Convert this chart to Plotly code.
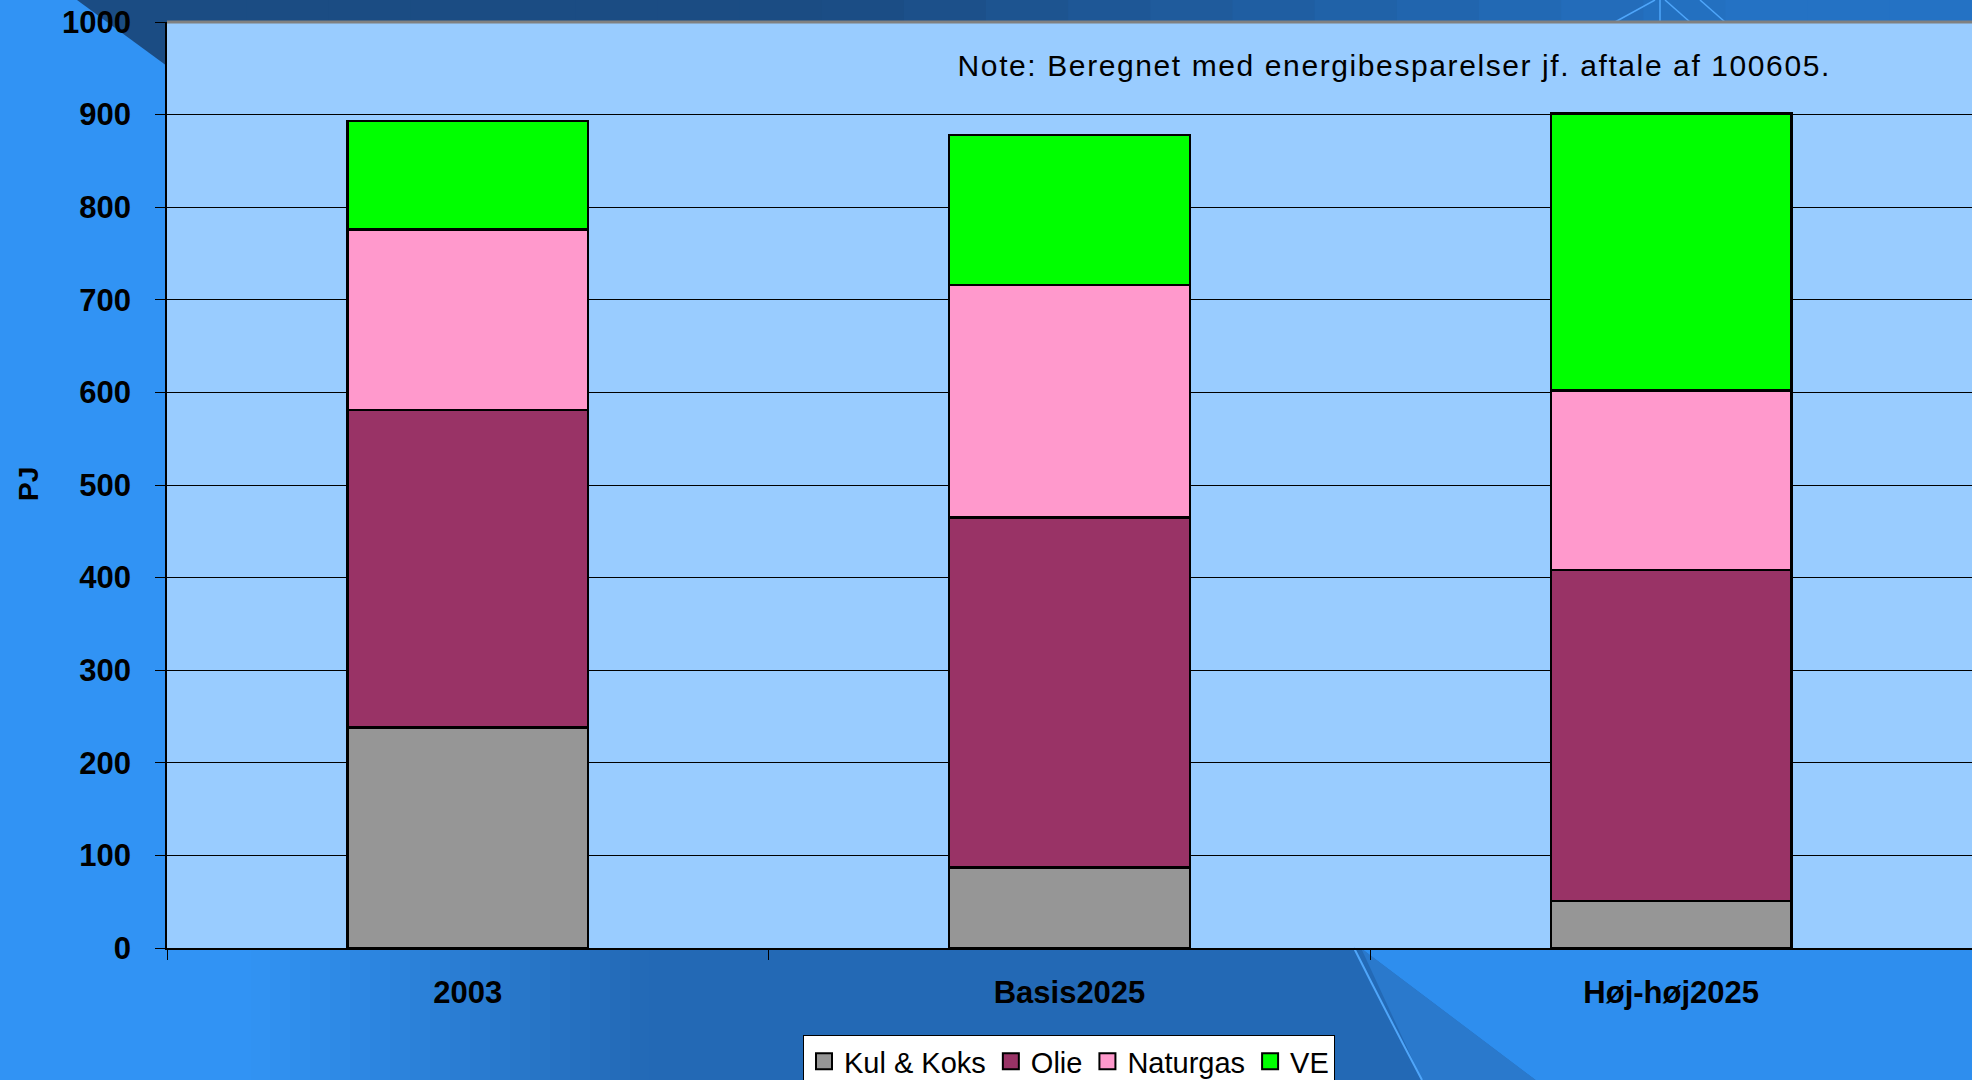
import plotly.graph_objects as go

categories = ["2003", "Basis2025", "Høj-høj2025"]
series_names = ["Kul & Koks", "Olie", "Naturgas", "VE"]
kul_koks = [238, 87, 51]
olie = [343, 378, 357]
naturgas = [195, 251, 194]
ve = [117, 162, 299]
series_values = [kul_koks, olie, naturgas, ve]
series_colors = ["#969696", "#993366", "#FF99CC", "#00FF00"]
y_ticks = [0, 100, 200, 300, 400, 500, 600, 700, 800, 900, 1000]
note_text = "Note: Beregnet med energibesparelser jf. aftale af 100605."
y_title = "PJ"

W_PX, H_PX = 1972, 1080
L, R, T, B = 167, 1972, 22, 948
PW, PH = R - L, B - T


def px(x):
    return (x - L) / PW


def py(y):
    return (B - y) / PH


FONT = "Liberation Sans, Arial, Helvetica, sans-serif"

fig = go.Figure()
for name, vals, col in zip(series_names, series_values, series_colors):
    fig.add_trace(go.Bar(
        x=categories, y=vals, name=name,
        marker=dict(color=col, line=dict(color="black", width=2.5)),
        showlegend=False, hoverinfo="x+y+name",
    ))
# legend proxies (square symbols)
for name, col in zip(series_names, series_colors):
    fig.add_trace(go.Scatter(
        x=[None], y=[None], mode="markers", name=name,
        marker=dict(symbol="square", size=16, color=col,
                    line=dict(color="black", width=2)),
        showlegend=True,
    ))


def hexmix(c1, c2, t):
    a = [int(c1[i:i + 2], 16) for i in (1, 3, 5)]
    b = [int(c2[i:i + 2], 16) for i in (1, 3, 5)]
    m = [round(a[k] + (b[k] - a[k]) * t) for k in range(3)]
    return "#%02x%02x%02x" % tuple(m)


shapes = []
BRIGHT = "#3193F4"
DARK = "#2369B5"
NAVY = "#1B4C83"
MID = "#2472C4"

# top band gradient (navy -> mid blue)
n = 24
for i in range(n):
    xa = i * W_PX / n
    xb = (i + 1) * W_PX / n + 1
    t = max(0.0, min(1.0, (xa - 800) / 900))
    shapes.append(dict(type="rect", xref="paper", yref="paper",
                       x0=px(xa), x1=px(xb), y0=py(T), y1=py(0),
                       fillcolor=hexmix(NAVY, MID, t), line=dict(width=0),
                       layer="below"))
# left bright strip
shapes.append(dict(type="rect", xref="paper", yref="paper",
                   x0=px(0), x1=px(L), y0=py(B + 1), y1=py(0),
                   fillcolor=BRIGHT, line=dict(width=0), layer="below"))
# dark corner triangle at top-left
shapes.append(dict(type="path", xref="paper", yref="paper",
                   path="M %f,%f L %f,%f L %f,%f Z" % (px(77), py(0), px(L), py(0), px(L), py(66)),
                   fillcolor=NAVY, line=dict(width=0), layer="below"))
# bottom region gradient bright -> dark
nb = 20
for i in range(nb):
    xa = 250 + i * 20
    xb = xa + 21
    t = (i + 0.5) / nb
    shapes.append(dict(type="rect", xref="paper", yref="paper",
                       x0=px(xa), x1=px(xb), y0=py(H_PX), y1=py(B),
                       fillcolor=hexmix(BRIGHT, DARK, t), line=dict(width=0), layer="below"))
shapes.append(dict(type="rect", xref="paper", yref="paper",
                   x0=px(0), x1=px(251), y0=py(H_PX), y1=py(B),
                   fillcolor=BRIGHT, line=dict(width=0), layer="below"))
shapes.append(dict(type="path", xref="paper", yref="paper",
                   path="M %f,%f L %f,%f L %f,%f L %f,%f Z" % (
                       px(650), py(B), px(1361), py(B), px(1536), py(H_PX), px(650), py(H_PX)),
                   fillcolor=DARK, line=dict(width=0), layer="below"))
shapes.append(dict(type="path", xref="paper", yref="paper",
                   path="M %f,%f L %f,%f L %f,%f L %f,%f Z" % (
                       px(1361), py(B), px(1536), py(H_PX), px(1422), py(H_PX), px(1361), py(B)),
                   fillcolor="#2A79CC", line=dict(width=0), layer="below"))
shapes.append(dict(type="path", xref="paper", yref="paper",
                   path="M %f,%f L %f,%f L %f,%f L %f,%f Z" % (
                       px(1361), py(B), px(R), py(B), px(R), py(H_PX), px(1536), py(H_PX)),
                   fillcolor="#2E8EEE", line=dict(width=0), layer="below"))
# light curve line at bottom
shapes.append(dict(type="path", xref="paper", yref="paper",
                   path="M %f,%f Q %f,%f %f,%f" % (px(1354), py(B), px(1385), py(1010), px(1422), py(H_PX)),
                   line=dict(color="#4FA6FA", width=2), layer="below"))
# light lines at top right
for (xa, xb) in [(1655, 1615), (1660, 1660), (1665, 1690), (1700, 1725)]:
    shapes.append(dict(type="line", xref="paper", yref="paper",
                       x0=px(xa), y0=py(0), x1=px(xb), y1=py(T),
                       line=dict(color="#4FA6FA", width=1.5), layer="below"))
# plot area top border (gray)
shapes.append(dict(type="line", xref="paper", yref="paper",
                   x0=0, x1=1, y0=1, y1=1,
                   line=dict(color="#808080", width=3), layer="above"))

fig.update_layout(
    width=W_PX, height=H_PX,
    margin=dict(l=L, r=W_PX - R, t=T, b=H_PX - B, pad=0, autoexpand=False),
    paper_bgcolor=BRIGHT,
    plot_bgcolor="#99CCFF",
    barmode="stack",
    bargap=0.6,
    font=dict(family=FONT, color="black"),
    shapes=shapes,
    showlegend=True,
    legend=dict(
        orientation="h", x=px(1069), xanchor="center", y=py(1035), yanchor="top",
        bgcolor="white", bordercolor="black", borderwidth=1,
        font=dict(family=FONT, size=29, color="black"),
        itemwidth=30, tracegroupgap=0, traceorder="normal",
    ),
    xaxis=dict(
        type="category", range=[-0.5, 2.5], tickson="boundaries",
        ticks="outside", ticklen=10, tickcolor="black", tickwidth=1,
        showline=True, linecolor="black", linewidth=1.5,
        showgrid=False, zeroline=False,
        tickfont=dict(family=FONT, size=31, color="black", weight="bold"),
        ticklabelstandoff=16,
    ),
    yaxis=dict(
        range=[0, 1000], tickvals=y_ticks, ticks="outside", ticklen=10,
        tickcolor="black", tickwidth=1,
        showline=True, linecolor="black", linewidth=1.5,
        showgrid=True, gridcolor="black", gridwidth=1,
        zeroline=False,
        tickfont=dict(family=FONT, size=31, color="black", weight="bold"),
        ticklabelstandoff=18,
    ),
    annotations=[
        dict(text=note_text, xref="paper", yref="paper",
             x=px(1394), y=py(65), xanchor="center", yanchor="middle",
             showarrow=False, font=dict(family=FONT, size=30, color="black")),
        dict(text=y_title, xref="paper", yref="paper",
             x=px(28), y=py(484), xanchor="center", yanchor="middle", textangle=-90,
             showarrow=False, font=dict(family=FONT, size=28, color="black", weight="bold")),
    ],
)

post = """
document.body.style.margin='0';
document.body.style.padding='0';
document.querySelectorAll('text.annotation-text').forEach(function(el){
  if (el.textContent.indexOf('Note:') === 0) { el.style.letterSpacing = '1.6px'; }
});
"""

fig.write_html("out.html", post_script=post, config={"displayModeBar": False})
